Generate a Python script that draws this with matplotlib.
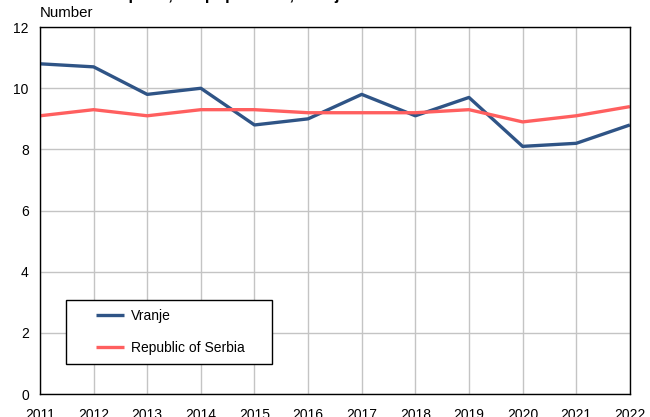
import matplotlib.pyplot as plt
from matplotlib.patches import Rectangle

plt.rcParams['font.family'] = ['Liberation Sans', 'DejaVu Sans']

years = list(range(2011, 2023))
vranje = [10.8, 10.7, 9.8, 10.0, 8.8, 9.0, 9.8, 9.1, 9.7, 8.1, 8.2, 8.8]
serbia = [9.1, 9.3, 9.1, 9.3, 9.3, 9.2, 9.2, 9.2, 9.3, 8.9, 9.1, 9.4]

fig = plt.figure(figsize=(6.5, 4.17), dpi=100)
ax = fig.add_axes([0.0615, 0.055, 0.9075, 0.880])

ax.plot(years, vranje, color="#2F5486", lw=2.4, label="Vranje", solid_capstyle="butt")
ax.plot(years, serbia, color="#FF5F5F", lw=2.4, label="Republic of Serbia", solid_capstyle="butt")

ax.set_xlim(2011, 2022)
ax.set_ylim(0, 12)
ax.set_xticks(years)
ax.set_yticks(range(0, 13, 2))
ax.tick_params(length=0, labelsize=10, pad=8)
ax.tick_params(axis="x", pad=10)
ax.grid(color="#C4C4C4", lw=1)
ax.set_axisbelow(True)
for s in ax.spines.values():
    s.set_color("black")
    s.set_linewidth(1)

# legend box drawn separately so the padding can differ horizontally and vertically
box = Rectangle((0.044, 0.082), 0.349, 0.174, transform=ax.transAxes,
                facecolor="white", edgecolor="black", lw=1, zorder=5)
ax.add_patch(box)
leg = ax.legend(loc="upper left", bbox_to_anchor=(0.0949, 0.2316), fontsize=10,
                frameon=False, borderpad=0, borderaxespad=0,
                handlelength=2.05, labelspacing=1.3, handletextpad=0.45)
leg.set_zorder(6)

fig.text(0.061, 0.953, "Number", fontsize=10.8, ha="left", va="bottom")
fig.text(0.062, 1.0, "Live births per 1,000 population, Vranje", fontsize=12,
         fontweight="bold", ha="left", va="baseline")

fig.savefig("out.png", dpi=100)
